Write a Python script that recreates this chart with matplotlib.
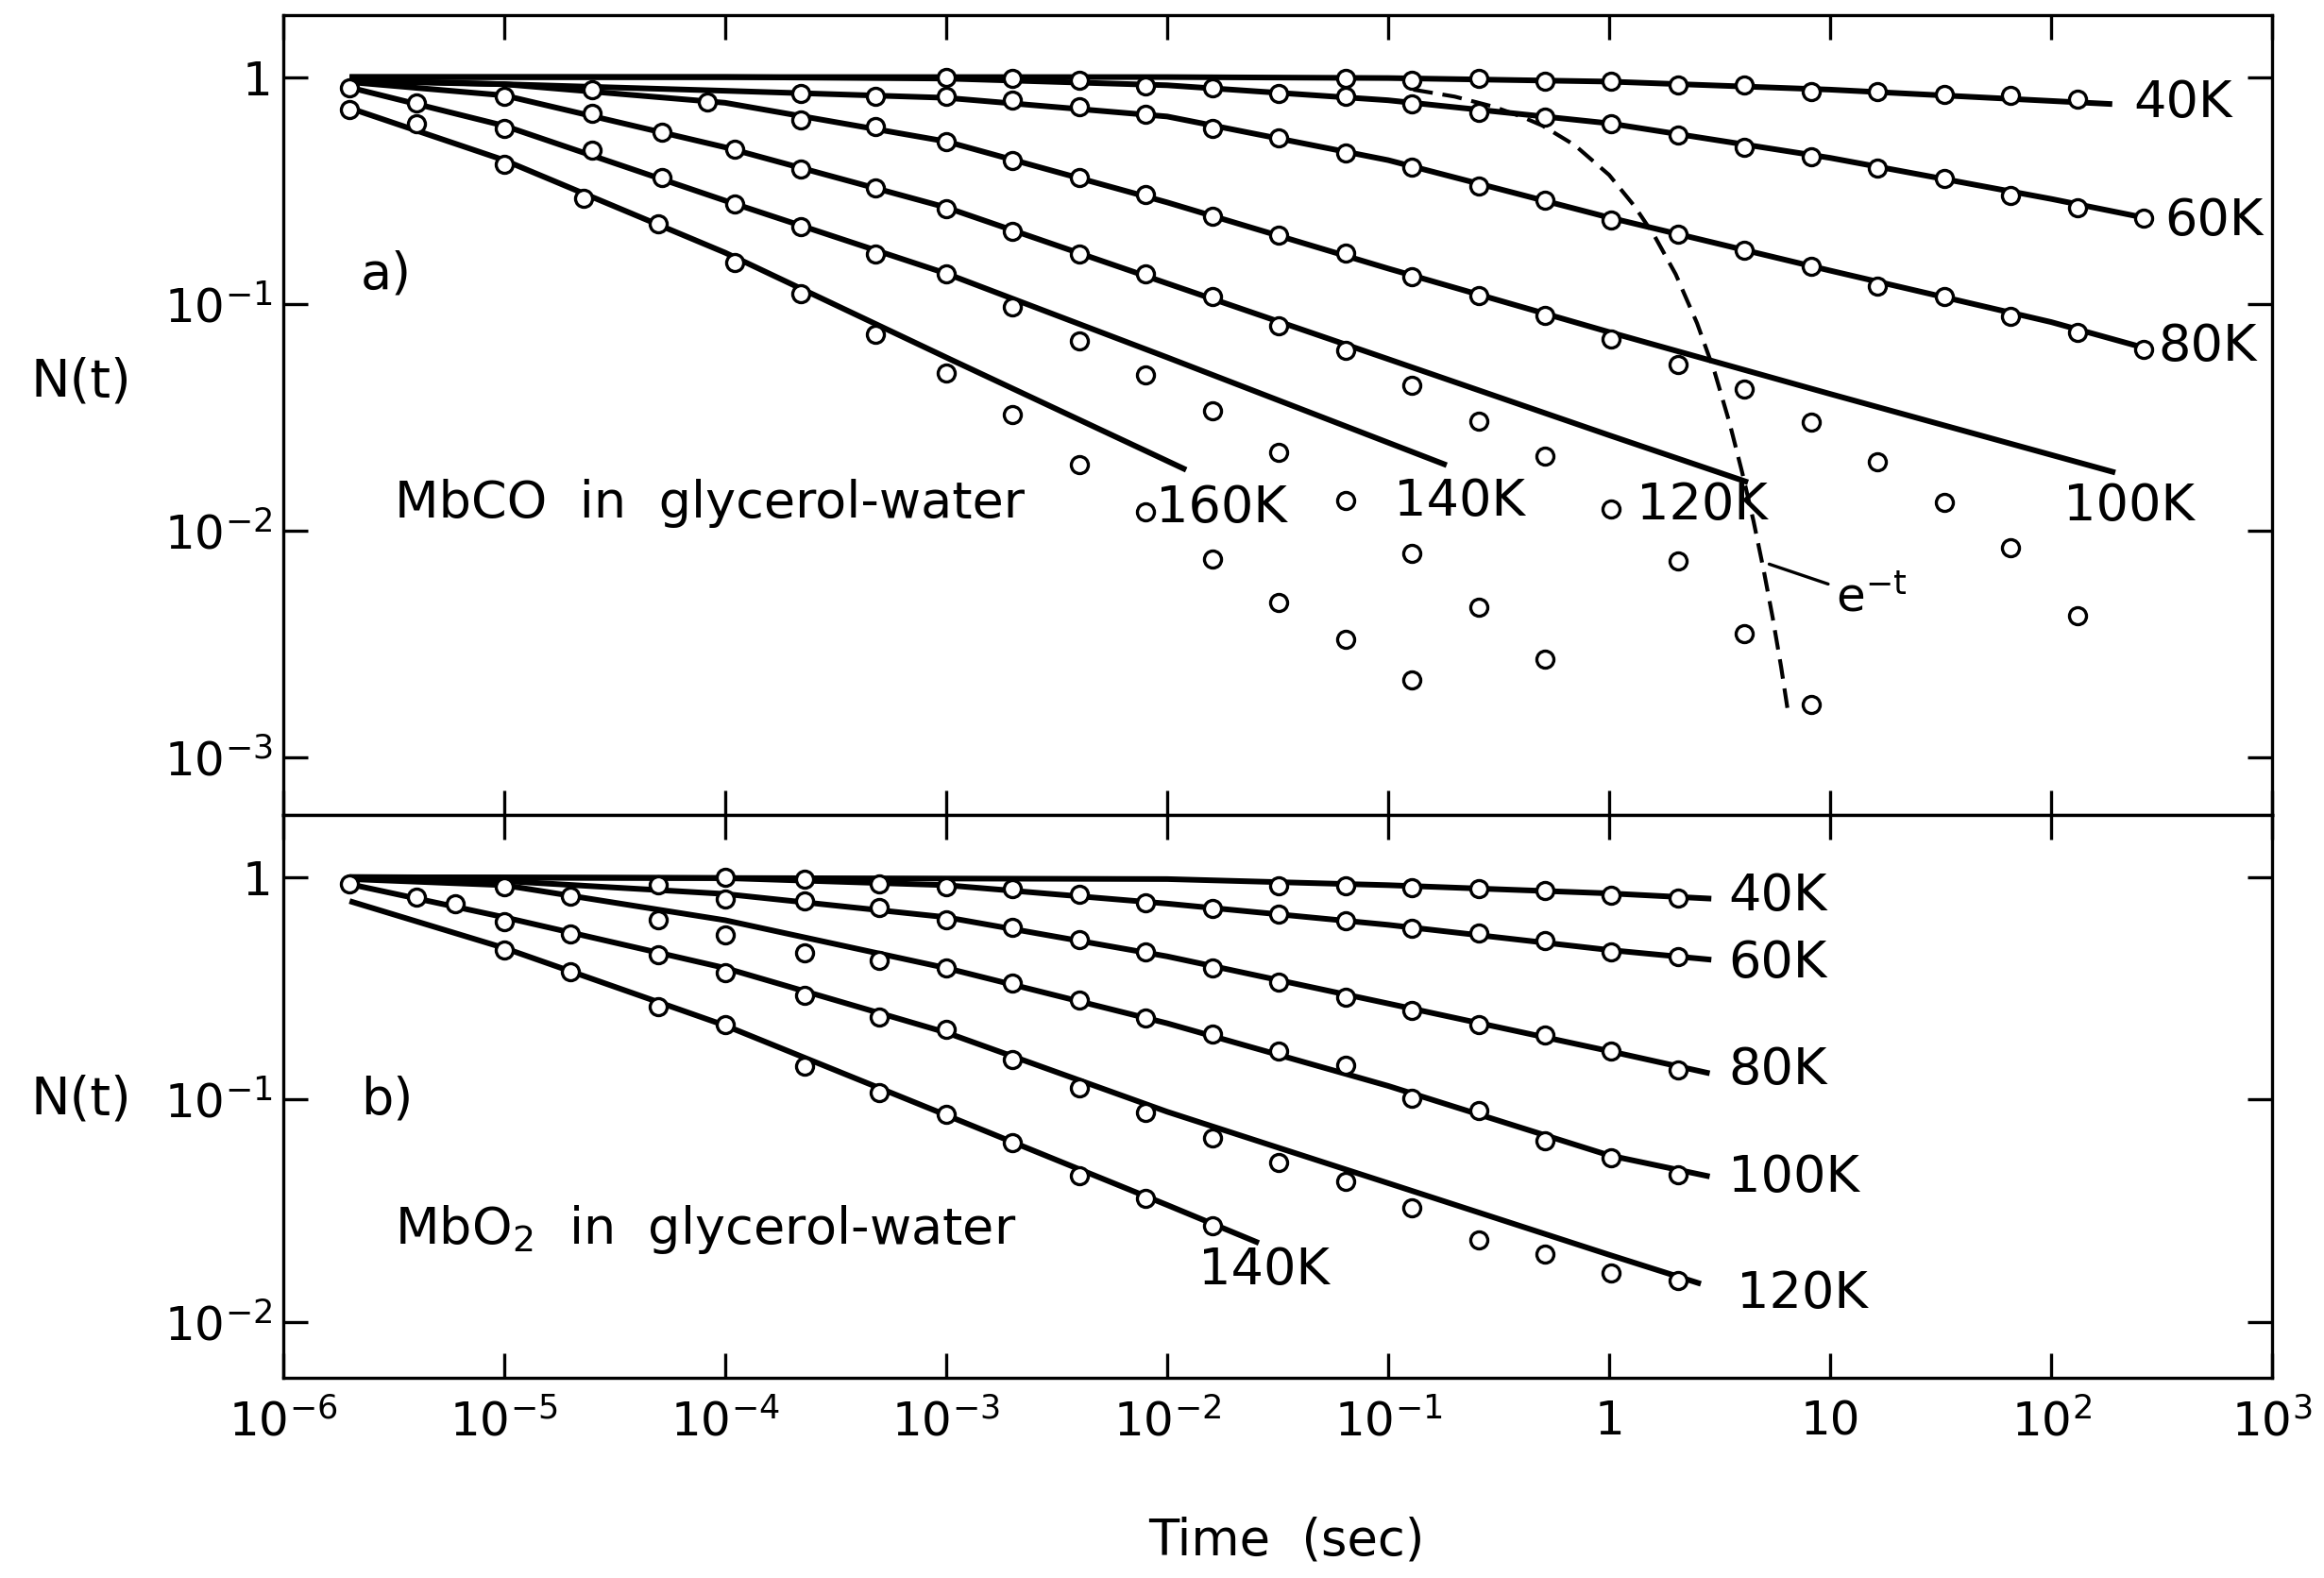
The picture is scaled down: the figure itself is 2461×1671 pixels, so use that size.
import matplotlib
matplotlib.use('Agg')
import matplotlib.pyplot as plt
from matplotlib.ticker import FixedLocator, FixedFormatter, NullLocator

# Panel a) MbCO in glycerol-water: measured points
t40_a = [0.064, 0.128, 0.256, 0.512, 1.02, 2.05, 4.1, 8.2, 16.4, 32.8, 65.5, 131]
n40_a = [0.99, 0.97, 0.99, 0.96, 0.955, 0.92, 0.92, 0.86, 0.865, 0.84, 0.83, 0.80]
t60_a = [1e-3, 2e-3, 4e-3, 8e-3, 1.6e-2, 3.2e-2, 6.4e-2, 0.128, 0.256, 0.512,
         1.02, 2.05, 4.1, 8.2, 16.4, 32.8, 65.5, 131, 262]
n60_a = [1.0, 0.985, 0.97, 0.915, 0.90, 0.85, 0.82, 0.764, 0.70, 0.664,
         0.62, 0.556, 0.49, 0.446, 0.396, 0.356, 0.30, 0.264, 0.239]
t80_a = [2.2e-4, 4.8e-4, 1e-3, 2e-3, 4e-3, 8e-3, 1.6e-2, 3.2e-2, 6.4e-2, 0.128, 0.256,
         0.512, 1.02, 2.05, 4.1, 8.2, 16.4, 32.8, 65.5, 131, 262]
n80_a = [0.845, 0.82, 0.824, 0.79, 0.74, 0.687, 0.596, 0.54, 0.464, 0.40, 0.33,
         0.286, 0.234, 0.203, 0.172, 0.146, 0.12, 0.108, 0.088, 0.075, 0.063]
t100_a = [2.5e-5, 8.3e-5, 2.2e-4, 4.8e-4, 1e-3, 2e-3, 4e-3, 8e-3, 1.6e-2, 3.2e-2, 6.4e-2,
          0.128, 0.256, 0.512, 1.02, 2.05, 4.1, 8.2, 16.4, 32.8, 65.5, 131]
n100_a = [0.877, 0.776, 0.644, 0.606, 0.518, 0.429, 0.362, 0.304, 0.243, 0.20, 0.167,
          0.132, 0.109, 0.089, 0.070, 0.054, 0.042, 0.030, 0.020, 0.0133, 0.0084, 0.0042]
t120_a = [1e-5, 2.5e-5, 5.2e-5, 1.1e-4, 2.2e-4, 4.8e-4, 1e-3, 2e-3, 4e-3, 8e-3,
          1.6e-2, 3.2e-2, 6.4e-2, 0.128, 0.256, 0.512, 1.02, 2.05, 4.1, 8.2]
n120_a = [0.82, 0.69, 0.571, 0.482, 0.392, 0.325, 0.262, 0.209, 0.165, 0.136,
          0.108, 0.080, 0.062, 0.0438, 0.0303, 0.0213, 0.0124, 0.0073, 0.0035, 0.0017]
t140_a = [2e-6, 4e-6, 1e-5, 2.5e-5, 5.2e-5, 1.1e-4, 2.2e-4, 4.8e-4, 1e-3, 2e-3,
          4e-3, 8e-3, 1.6e-2, 3.2e-2, 6.4e-2, 0.128, 0.256, 0.512]
n140_a = [0.896, 0.766, 0.596, 0.478, 0.36, 0.276, 0.219, 0.166, 0.135, 0.097,
          0.0685, 0.0486, 0.0337, 0.022, 0.0136, 0.0079, 0.0046, 0.0027]
t160_a = [2e-6, 4e-6, 1e-5, 2.3e-5, 5e-5, 1.1e-4, 2.2e-4, 4.8e-4, 1e-3, 2e-3,
          4e-3, 8e-3, 1.6e-2, 3.2e-2, 6.4e-2, 0.128]
n160_a = [0.717, 0.622, 0.413, 0.291, 0.226, 0.152, 0.111, 0.0735, 0.0495, 0.0324,
          0.0195, 0.0121, 0.0075, 0.0048, 0.0033, 0.0022]

# Panel a) fitted curves at a few nodes
ft40_a = [2e-6, 1e-2, 0.1, 1, 10, 189]
fn40_a = [1.0, 1.0, 0.99, 0.955, 0.88, 0.76]
ft60_a = [2e-6, 1e-4, 1e-3, 1e-2, 0.1, 1, 10, 100, 262]
fn60_a = [1.0, 1.0, 0.985, 0.92, 0.79, 0.625, 0.44, 0.29, 0.24]
ft80_a = [2e-6, 1e-5, 1e-4, 1e-3, 1e-2, 0.1, 1, 10, 100, 262]
fn80_a = [0.97, 0.93, 0.87, 0.81, 0.67, 0.43, 0.24, 0.14, 0.083, 0.064]
ft100_a = [2e-6, 1e-5, 1e-4, 1e-3, 1e-2, 0.1, 1, 10, 195]
fn100_a = [0.96, 0.93, 0.77, 0.52, 0.28, 0.143, 0.075, 0.040, 0.018]
ft120_a = [2e-6, 1e-5, 1e-4, 1e-3, 1e-2, 0.1, 1, 4.25]
fn120_a = [0.95, 0.83, 0.49, 0.266, 0.123, 0.057, 0.0263, 0.0163]
ft140_a = [2e-6, 1e-5, 1e-4, 1e-3, 1e-2, 0.184]
fn140_a = [0.9, 0.61, 0.285, 0.136, 0.058, 0.0194]
ft160_a = [2e-6, 1e-5, 1e-4, 1e-3, 0.0122]
fn160_a = [0.73, 0.43, 0.168, 0.058, 0.0185]

# dashed e^-t curve
t_exp = [0.13, 0.2, 0.3, 0.4, 0.5, 0.7, 1.0, 1.3, 1.6, 2.0, 2.5, 3.0, 3.5, 4.0,
         4.5, 5.0, 5.5, 6.0, 6.5]
n_exp = [0.88, 0.82, 0.74, 0.67, 0.61, 0.50, 0.37, 0.27, 0.20, 0.135, 0.082, 0.050,
         0.030, 0.018, 0.011, 0.0067, 0.0041, 0.0025, 0.0015]

# Panel b) MbO2 in glycerol-water: measured points
t40_b = [3.2e-2, 6.4e-2, 0.128, 0.256, 0.512, 1.02, 2.05]
n40_b = [0.914, 0.914, 0.90, 0.886, 0.871, 0.83, 0.803]
t60_b = [1e-4, 2.3e-4, 5e-4, 1e-3, 2e-3, 4e-3, 8e-3, 1.6e-2, 3.2e-2, 6.4e-2,
         0.128, 0.256, 0.512, 1.02, 2.05]
n60_b = [1.0, 0.98, 0.936, 0.906, 0.89, 0.836, 0.77, 0.72, 0.682, 0.638,
         0.589, 0.561, 0.517, 0.461, 0.44]
t80_b = [5e-5, 1e-4, 2.3e-4, 5e-4, 1e-3, 2e-3, 4e-3, 8e-3, 1.6e-2, 3.2e-2,
         6.4e-2, 0.128, 0.256, 0.512, 1.02, 2.05]
n80_b = [0.92, 0.796, 0.783, 0.733, 0.644, 0.593, 0.521, 0.46, 0.39, 0.338,
         0.287, 0.252, 0.218, 0.194, 0.165, 0.136]
t100_b = [1e-5, 2e-5, 5e-5, 1e-4, 2.3e-4, 5e-4, 1e-3, 2e-3, 4e-3, 8e-3, 1.6e-2,
          3.2e-2, 6.4e-2, 0.128, 0.256, 0.512, 1.02, 2.05]
n100_b = [0.906, 0.823, 0.644, 0.547, 0.457, 0.421, 0.389, 0.335, 0.28, 0.232, 0.196,
          0.165, 0.143, 0.101, 0.089, 0.065, 0.0545, 0.0456]
t120_b = [4e-6, 6e-6, 1e-5, 2e-5, 5e-5, 1e-4, 2.3e-4, 5e-4, 1e-3, 2e-3, 4e-3,
          8e-3, 1.6e-2, 3.2e-2, 6.4e-2, 0.128, 0.256, 0.512, 1.02, 2.05]
n120_b = [0.809, 0.758, 0.633, 0.556, 0.449, 0.37, 0.294, 0.234, 0.206, 0.151, 0.1125,
          0.087, 0.067, 0.052, 0.0427, 0.0324, 0.0234, 0.0202, 0.0166, 0.0153]
t140_b = [2e-6, 1e-5, 2e-5, 5e-5, 1e-4, 2.3e-4, 5e-4, 1e-3, 2e-3, 4e-3, 8e-3, 1.6e-2]
n140_b = [0.936, 0.472, 0.376, 0.262, 0.216, 0.141, 0.107, 0.0853, 0.0636, 0.0452,
          0.036, 0.027]

# Panel b) fitted curves
ft40_b = [2e-6, 1e-2, 0.1, 1, 2.9]
fn40_b = [1.0, 0.98, 0.92, 0.845, 0.80]
ft60_b = [2e-6, 1e-4, 1e-3, 1e-2, 0.1, 1, 2.9]
fn60_b = [1.0, 0.99, 0.92, 0.76, 0.61, 0.47, 0.425]
ft80_b = [2e-6, 1e-5, 1e-4, 1e-3, 1e-2, 0.1, 1, 2.85]
fn80_b = [0.99, 0.96, 0.84, 0.66, 0.44, 0.27, 0.165, 0.131]
ft100_b = [2e-6, 1e-5, 1e-4, 1e-3, 1e-2, 0.1, 1, 2.85]
fn100_b = [0.98, 0.92, 0.64, 0.39, 0.22, 0.115, 0.056, 0.045]
ft120_b = [2e-6, 1e-5, 1e-4, 1e-3, 1e-2, 0.1, 1, 2.6]
fn120_b = [0.93, 0.66, 0.39, 0.2, 0.088, 0.042, 0.020, 0.0148]
ft140_b = [2e-6, 1e-5, 1e-4, 1e-3, 1e-2, 0.026]
fn140_b = [0.78, 0.48, 0.215, 0.085, 0.0335, 0.0226]

# Tick labels
x_ticks = [1e-6, 1e-5, 1e-4, 1e-3, 1e-2, 1e-1, 1, 10, 1e2, 1e3]
x_labels = ['$10^{-6}$', '$10^{-5}$', '$10^{-4}$', '$10^{-3}$', '$10^{-2}$',
            '$10^{-1}$', '1', '10', '$10^{2}$', '$10^{3}$']
y_ticks_a = [1, 1e-1, 1e-2, 1e-3]
y_labels_a = ['1', '$10^{-1}$', '$10^{-2}$', '$10^{-3}$']
y_ticks_b = [1, 1e-1, 1e-2]
y_labels_b = ['1', '$10^{-1}$', '$10^{-2}$']

plt.rcParams['font.family'] = 'DejaVu Sans'
plt.rcParams['mathtext.fontset'] = 'dejavusans'

fig = plt.figure(figsize=(24.61, 16.71), dpi=100)
ax_a = fig.add_axes([0.1218, 0.4836, 0.8559, 0.5070])
ax_b = fig.add_axes([0.1218, 0.1268, 0.8559, 0.3568])

lines_a = [(ft40_a, fn40_a), (ft60_a, fn60_a), (ft80_a, fn80_a), (ft100_a, fn100_a),
           (ft120_a, fn120_a), (ft140_a, fn140_a), (ft160_a, fn160_a)]
points_a = [(t40_a, n40_a), (t60_a, n60_a), (t80_a, n80_a), (t100_a, n100_a),
            (t120_a, n120_a), (t140_a, n140_a), (t160_a, n160_a)]
lines_b = [(ft40_b, fn40_b), (ft60_b, fn60_b), (ft80_b, fn80_b), (ft100_b, fn100_b),
           (ft120_b, fn120_b), (ft140_b, fn140_b)]
points_b = [(t40_b, n40_b), (t60_b, n60_b), (t80_b, n80_b), (t100_b, n100_b),
            (t120_b, n120_b), (t140_b, n140_b)]

for ax, lines, points in [(ax_a, lines_a, points_a), (ax_b, lines_b, points_b)]:
    for t, n in lines:
        ax.plot(t, n, color='black', lw=4.3, solid_capstyle='butt',
                solid_joinstyle='round', zorder=2)
    for t, n in points:
        ax.plot(t, n, 'o', ms=13, mfc='white', mec='black', mew=2.4, zorder=3)

# e^-t
ax_a.plot(t_exp, n_exp, color='black', lw=3.0, dashes=(5, 2.5), zorder=2)
ax_a.annotate('$\\mathregular{e^{-t}}$', xy=(5.3, 0.0071), xytext=(10.6, 0.0050),
              fontsize=36, ha='left', va='center',
              arrowprops=dict(arrowstyle='-', color='black', lw=2.4,
                              shrinkA=4, shrinkB=0))

# Axes setup
for ax in (ax_a, ax_b):
    ax.set_xscale('log')
    ax.set_yscale('log')
    ax.set_xlim(1e-6, 1e3)
    ax.xaxis.set_major_locator(FixedLocator(x_ticks))
    ax.xaxis.set_minor_locator(NullLocator())
    ax.yaxis.set_minor_locator(NullLocator())
    ax.tick_params(which='major', direction='in', length=19, width=2.4,
                   top=True, right=True, labelsize=36, pad=16)
    ax.tick_params(axis='y', pad=8)
    for s in ax.spines.values():
        s.set_linewidth(2.4)

ax_a.set_ylim(10 ** -3.255, 10 ** 0.2745)
ax_b.set_ylim(10 ** -2.253, 10 ** 0.28)
ax_a.yaxis.set_major_locator(FixedLocator(y_ticks_a))
ax_a.yaxis.set_major_formatter(FixedFormatter(y_labels_a))
ax_b.yaxis.set_major_locator(FixedLocator(y_ticks_b))
ax_b.yaxis.set_major_formatter(FixedFormatter(y_labels_b))
ax_a.tick_params(axis='x', labelbottom=False)
ax_b.xaxis.set_major_formatter(FixedFormatter(x_labels))

# Temperature labels
lab = dict(fontsize=39, ha='left', va='center')
ax_a.text(235, 0.769, '40K', **lab)
ax_a.text(325, 0.231, '60K', **lab)
ax_a.text(305, 0.0645, '80K', **lab)
ax_a.text(113, 0.0128, '100K', **lab)
ax_a.text(1.33, 0.0129, '120K', **lab)
ax_a.text(0.106, 0.0134, '140K', **lab)
ax_a.text(0.0089, 0.0126, '160K', **lab)
ax_a.text(3.2e-6, 0.0132, 'MbCO  in  glycerol-water', **lab)
ax_a.text(2.24e-6, 0.135, 'a)', **lab)

ax_b.text(3.47, 0.819, '40K', **lab)
ax_b.text(3.47, 0.41, '60K', **lab)
ax_b.text(3.47, 0.136, '80K', **lab)
ax_b.text(3.47, 0.0443, '100K', **lab)
ax_b.text(3.76, 0.0134, '120K', **lab)
ax_b.text(0.01378, 0.0171, '140K', **lab)
ax_b.text(3.2e-6, 0.0259, 'MbO$_2$  in  glycerol-water', **lab)
ax_b.text(2.24e-6, 0.1, 'b)', **lab)

fig.text(0.035, 0.7577, 'N(t)', fontsize=40, ha='center', va='center')
fig.text(0.035, 0.3033, 'N(t)', fontsize=40, ha='center', va='center')
fig.text(0.5536, 0.0235, 'Time  (sec)', fontsize=38, ha='center', va='center')

fig.savefig('out.png', dpi=100)
